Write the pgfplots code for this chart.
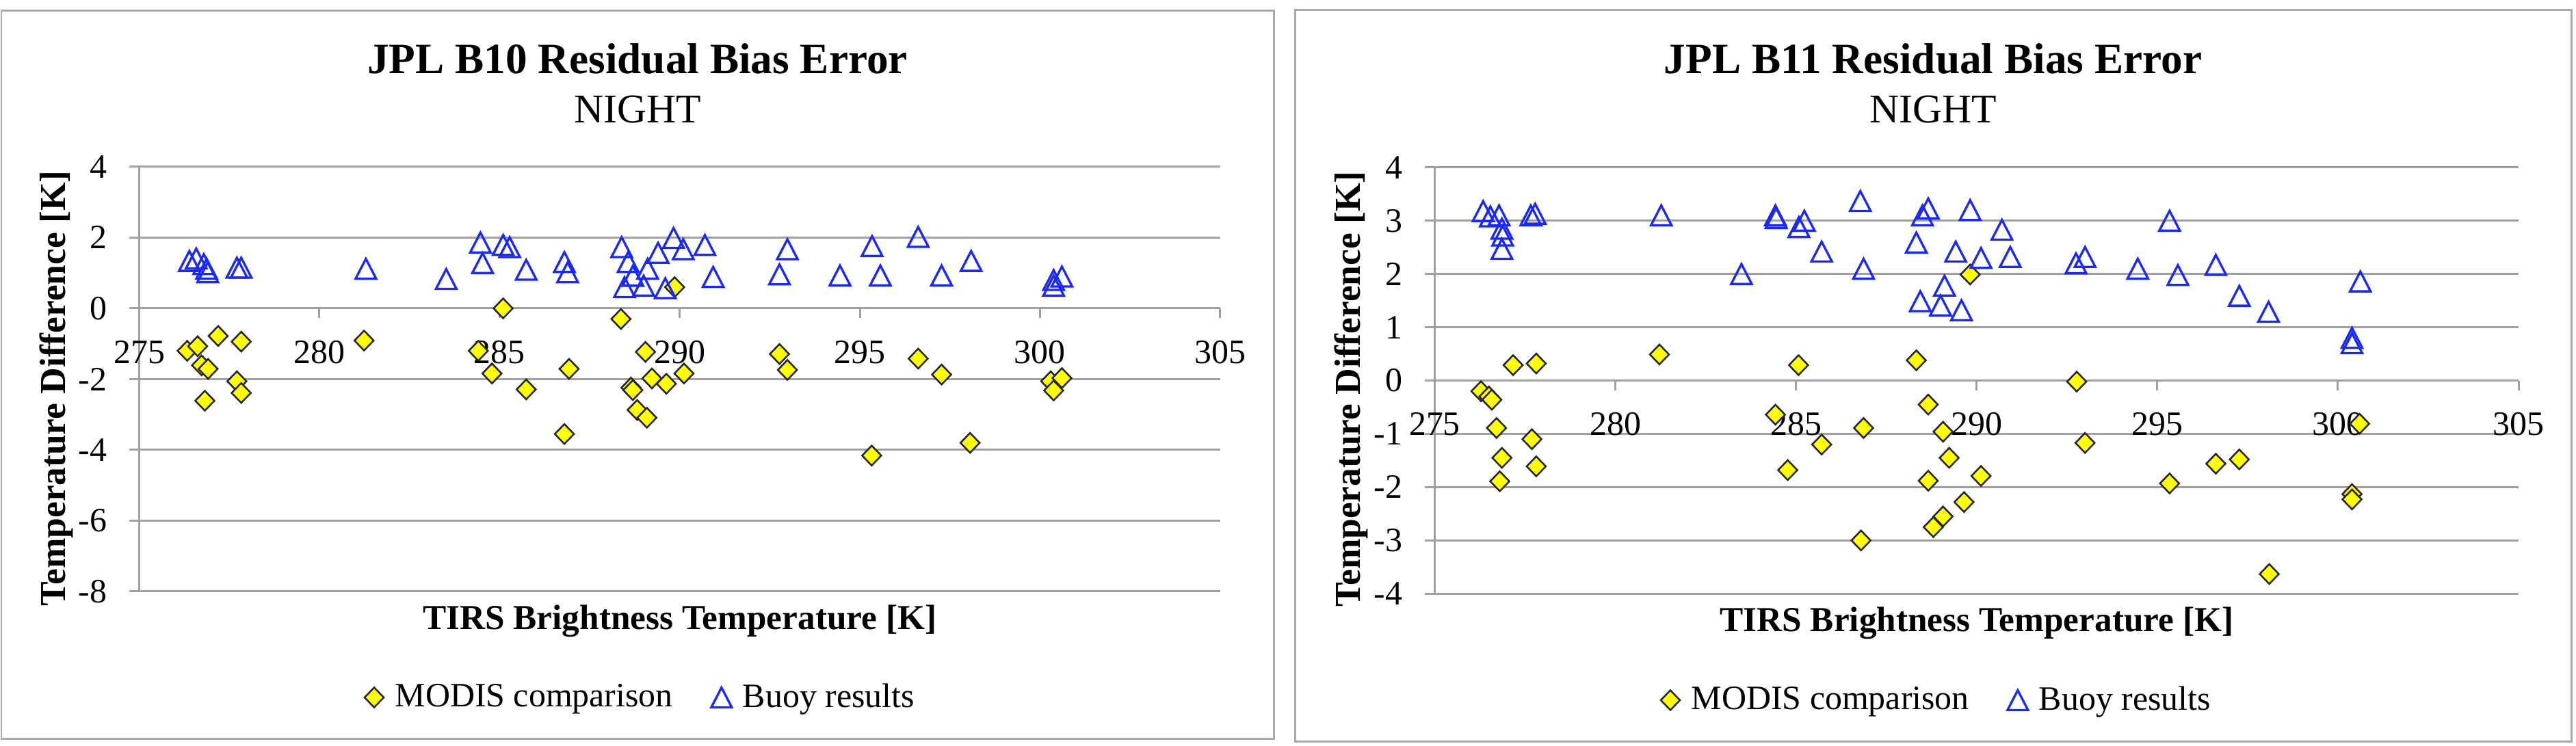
\documentclass[border=0pt]{standalone}
\usepackage{pgfplots}
\usepackage{pgfplotstable}
\pgfplotsset{compat=1.18}
\usepackage{fontspec}
\setmainfont{Liberation Serif}
\definecolor{gridgray}{RGB}{160,160,160}
\definecolor{borderg}{RGB}{170,170,170}
\definecolor{buoyblue}{RGB}{25,40,255}
\definecolor{modisyel}{RGB}{255,255,0}
\pgfdeclareplotmark{exdiamond}{%
  \pgfpathmoveto{\pgfqpoint{0pt}{1.45mm}}%
  \pgfpathlineto{\pgfqpoint{1.4mm}{0pt}}%
  \pgfpathlineto{\pgfqpoint{0pt}{-1.45mm}}%
  \pgfpathlineto{\pgfqpoint{-1.4mm}{0pt}}%
  \pgfpathclose
  \pgfusepathqfillstroke}
\pgfdeclareplotmark{extri}{%
  \pgfpathmoveto{\pgfqpoint{0pt}{1.45mm}}%
  \pgfpathlineto{\pgfqpoint{1.5mm}{-1.45mm}}%
  \pgfpathlineto{\pgfqpoint{-1.5mm}{-1.45mm}}%
  \pgfpathclose
  \pgfusepathqstroke}
\newcommand{\tfont}{\fontsize{14.2pt}{17pt}\selectfont}

\pgfplotstableread{
x y
276.33 -1.20
276.62 -1.07
276.73 -1.61
276.91 -1.71
276.82 -2.61
277.19 -0.78
277.71 -2.06
277.83 -0.94
277.83 -2.39
281.24 -0.91
284.41 -1.20
284.79 -1.84
285.10 0.00
285.74 -2.29
286.93 -1.71
286.80 -3.55
288.37 -0.30
288.65 -2.24
288.70 -2.31
288.82 -2.87
289.09 -3.09
289.05 -1.23
289.23 -1.98
289.63 -2.13
290.12 -1.84
289.86 0.60
292.77 -1.29
292.99 -1.74
295.33 -4.16
296.62 -1.42
297.27 -1.87
298.06 -3.80
300.30 -2.06
300.61 -1.97
300.38 -2.32
}\modisA

\pgfplotstableread{
x y
276.39 1.34
276.58 1.41
276.79 1.25
276.87 1.12
276.90 1.02
277.71 1.15
277.83 1.15
281.29 1.12
283.52 0.83
284.47 1.86
284.53 1.28
285.10 1.79
285.28 1.73
285.74 1.09
286.80 1.31
286.89 1.02
288.39 1.73
288.57 1.31
288.47 0.60
288.70 0.92
289.00 0.64
289.11 1.12
289.40 1.57
289.60 0.57
289.83 1.99
290.10 1.67
290.70 1.79
290.93 0.89
292.77 0.96
292.99 1.67
294.45 0.93
295.34 1.76
295.57 0.93
296.62 2.02
297.27 0.93
298.09 1.34
300.38 0.80
300.38 0.64
300.61 0.90
}\buoyA

\pgfplotstableread{
x y
276.28 -0.20
276.50 -0.30
276.58 -0.36
276.71 -0.89
276.86 -1.45
276.80 -1.89
277.17 0.29
277.69 -1.10
277.81 0.32
277.81 -1.61
281.22 0.49
284.43 -0.64
284.77 -1.68
285.07 0.29
285.71 -1.20
286.87 -0.89
286.80 -3.00
288.33 0.38
288.66 -0.45
288.66 -1.88
288.80 -2.75
289.07 -0.96
289.07 -2.55
289.24 -1.45
289.65 -2.28
289.82 1.99
290.12 -1.79
292.77 -0.02
293.00 -1.17
295.34 -1.93
296.62 -1.56
297.27 -1.48
298.10 -3.63
300.39 -2.13
300.39 -2.23
300.60 -0.81
}\modisB

\pgfplotstableread{
x y
276.34 3.18
276.54 3.08
276.78 3.10
276.86 2.85
276.88 2.72
276.86 2.47
277.66 3.10
277.78 3.13
281.27 3.10
283.49 2.00
284.43 3.10
284.45 3.05
285.08 2.88
285.23 3.00
285.71 2.42
286.78 3.37
286.87 2.10
288.33 2.59
288.44 1.49
288.50 3.10
288.66 3.23
289.11 1.78
289.00 1.41
289.58 1.32
289.42 2.42
289.82 3.20
290.12 2.30
290.70 2.83
290.93 2.32
292.75 2.20
293.00 2.32
294.46 2.10
295.34 3.00
295.57 1.98
296.62 2.17
297.27 1.59
298.08 1.29
300.39 0.80
300.39 0.70
300.62 1.86
}\buoyB

\pgfplotsset{
  excel/.style={
    scale only axis,
    anchor=south west,
    xmin=275, xmax=305,
    axis x line=middle, axis y line=left,
    axis line style={-, draw=gridgray, line width=0.3mm},
    hide obscured x ticks=false, hide obscured y ticks=false,
    xtick={275,280,285,290,295,300,305},
    xticklabels={275,280,285,290,295,300,305},
    tick align=outside,
    major tick length=1.45mm,
    tick style={draw=gridgray, line width=0.3mm},
    ymajorgrids,
    major grid style={draw=gridgray, line width=0.3mm},
    ticklabel style={font=\tfont},
    xticklabel style={anchor=center, inner sep=0pt, yshift=-4.95mm},
    yticklabel style={anchor=east, inner sep=0pt, xshift=-3.2mm},
    every axis x label/.style={anchor=base, font=\fontsize{14.6pt}{17pt}\selectfont\bfseries},
    every axis y label/.style={anchor=base, rotate=90, font=\fontsize{15.2pt}{18pt}\selectfont\bfseries},
    legend columns=2,
    legend style={draw=none, fill=none, font=\tfont, anchor=center,
      nodes={inner sep=0.6mm},
      /tikz/every odd column/.append style={column sep=1mm},
      /tikz/every even column/.append style={column sep=5mm}},
    legend image code/.code={%
      \path (0mm,0mm) (2.8mm,0mm);
      \draw[##1] plot coordinates {(1.4mm,0mm)};},
  },
  modisstyle/.style={only marks, mark=exdiamond,
    mark options={draw=black!85, fill=modisyel, line width=0.25mm}},
  buoystyle/.style={only marks, mark=extri,
    mark options={draw=buoyblue, line width=0.33mm}},
}

\begin{document}
\begin{tikzpicture}
\path[use as bounding box] (0,0) rectangle (376.6mm,109.1mm);
\draw[borderg, line width=0.3mm] (0.2mm,1.0mm) rectangle (186.2mm,107.5mm);
\draw[borderg, line width=0.3mm] (189.35mm,0.6mm) rectangle (375.9mm,107.6mm);

\node[font=\fontsize{18pt}{21pt}\selectfont\bfseries, anchor=base] at (93.2mm,98.3mm) {JPL B10 Residual Bias Error};
\node[font=\fontsize{17pt}{20pt}\selectfont, anchor=base] at (93.2mm,91.1mm) {NIGHT};
\node[font=\fontsize{18pt}{21pt}\selectfont\bfseries, anchor=base] at (282.6mm,98.3mm) {JPL B11 Residual Bias Error};
\node[font=\fontsize{17pt}{20pt}\selectfont, anchor=base] at (282.6mm,91.1mm) {NIGHT};

\begin{axis}[excel,
  at={(20.36mm,22.6mm)}, width=158.01mm, height=62.1mm,
  ymin=-8, ymax=4,
  ytick={-8,-6,-4,-2,0,2,4},
  yticklabels={-8,-6,-4,-2,0,2,4},
  xlabel={TIRS Brightness Temperature [K]},
  ylabel={Temperature Difference [K]},
  xlabel style={at={(axis description cs:0.5,-0.0886)}},
  ylabel style={at={(axis description cs:-0.0683,0.4783)}},
  legend style={at={(axis description cs:0.4645,-0.2496)}},
]
\addplot[modisstyle] table[x=x,y=y] {\modisA};
\addlegendentry{MODIS comparison}
\addplot[buoystyle] table[x=x,y=y] {\buoyA};
\addlegendentry{Buoy results}
\end{axis}

\begin{axis}[excel,
  at={(209.75mm,22.27mm)}, width=158.45mm, height=62.35mm,
  ymin=-4, ymax=4,
  ytick={-4,-3,-2,-1,0,1,2,3,4},
  yticklabels={-4,-3,-2,-1,0,1,2,3,4},
  xlabel={TIRS Brightness Temperature [K]},
  ylabel={Temperature Difference [K]},
  xlabel style={at={(axis description cs:0.5,-0.0882)}},
  ylabel style={at={(axis description cs:-0.0688,0.48)}},
  legend style={at={(axis description cs:0.4639,-0.2497)}},
]
\addplot[modisstyle] table[x=x,y=y] {\modisB};
\addlegendentry{MODIS comparison}
\addplot[buoystyle] table[x=x,y=y] {\buoyB};
\addlegendentry{Buoy results}
\end{axis}
\end{tikzpicture}
\end{document}
